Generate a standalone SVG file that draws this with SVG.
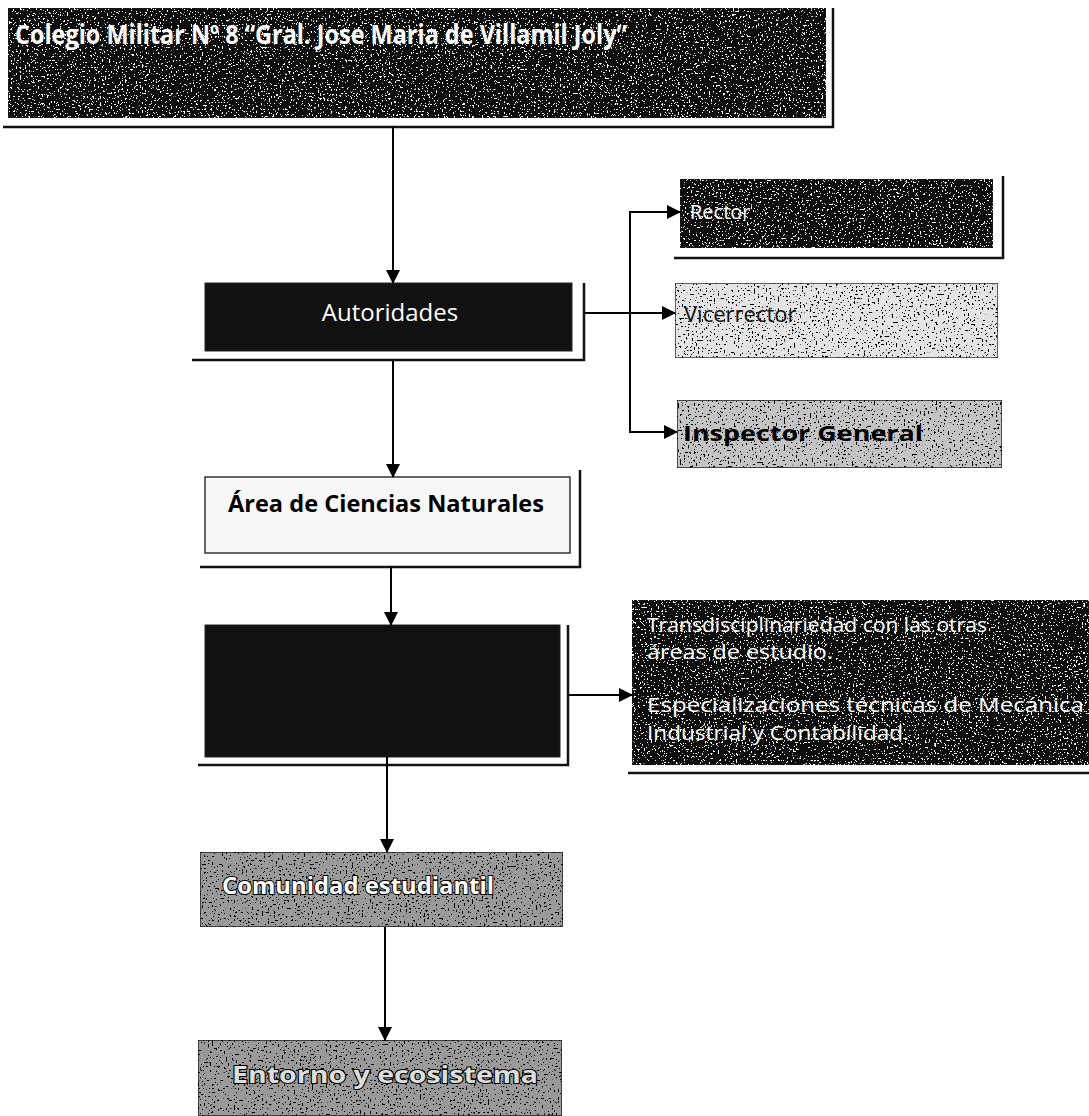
<svg xmlns="http://www.w3.org/2000/svg" width="1089" height="1116" viewBox="0 0 1089 1116">
<defs>
<filter id="noiseDark" x="0" y="0" width="100%" height="100%">
<feTurbulence type="fractalNoise" baseFrequency="0.55" numOctaves="2" seed="3" result="n"/>
<feColorMatrix in="n" type="matrix" values="0 0 0 0 1  0 0 0 0 1  0 0 0 0 1  0 0 0 -30 10.6" result="spk"/>
<feComposite in="spk" in2="SourceGraphic" operator="in" result="s2"/>
<feMerge><feMergeNode in="SourceGraphic"/><feMergeNode in="s2"/></feMerge>
</filter>
<filter id="noiseLight" x="0" y="0" width="100%" height="100%">
<feTurbulence type="fractalNoise" baseFrequency="0.5" numOctaves="2" seed="7" result="n"/>
<feColorMatrix in="n" type="matrix" values="0 0 0 0 0  0 0 0 0 0  0 0 0 0 0  0 0 0 -30 10.6" result="spk"/>
<feComposite in="spk" in2="SourceGraphic" operator="in" result="s2"/>
<feMerge><feMergeNode in="SourceGraphic"/><feMergeNode in="s2"/></feMerge>
</filter>
<marker id="arr" viewBox="0 0 14 14" refX="13" refY="7" markerWidth="14" markerHeight="14" markerUnits="userSpaceOnUse" orient="auto">
<path d="M0,0 L14,7 L0,14 z" fill="#000"/>
</marker>
</defs>
<style>
.frame{fill:none;stroke:#111;stroke-width:2.5}
.dark{fill:#111;stroke:#222;stroke-width:1}
.mid{fill:#9a9a9a;stroke:#222;stroke-width:1.5}
.light{fill:#e4e4e4;stroke:#333;stroke-width:1.5}
.pale{fill:#f7f7f7;stroke:#333;stroke-width:1.5}
.conn{fill:none;stroke:#000;stroke-width:2}
.t{font-family:"Open Sans","Liberation Sans",sans-serif}
.wb{fill:#fff;font-weight:bold}
</style>
<rect width="1089" height="1116" fill="#fff"/>

<g id="n-colegio">
<rect x="8" y="8" width="818" height="110" class="dark" filter="url(#noiseDark)"/>
<polyline points="3,127 833,127 833,8" class="frame"/>
<text x="15" y="44" class="t wb" font-size="26" textLength="612" lengthAdjust="spacingAndGlyphs">Colegio Militar Nº 8 “Gral. Jose Maria de Villamil Joly”</text>
</g>

<g id="n-autoridades">
<rect x="205" y="283" width="367" height="68" class="dark"/>
<polyline points="192,360 584,360 584,283" class="frame"/>
<text x="390" y="321" class="t" font-size="24" fill="#fff" text-anchor="middle">Autoridades</text>
</g>

<g id="n-rector">
<rect x="680" y="179" width="313" height="69" class="dark" filter="url(#noiseDark)"/>
<polyline points="674,258 1003,258 1003,176" class="frame"/>
<text x="690" y="219" class="t" font-size="20" fill="#fff">Rector</text>
</g>

<g id="n-vicerrector">
<rect x="675" y="283" width="323" height="75" class="light" filter="url(#noiseLight)"/>
<text x="684" y="322" class="t" font-size="22" fill="#111">Vicerrector</text>
</g>

<g id="n-inspector">
<rect x="677" y="400" width="325" height="68" class="mid" filter="url(#noiseLight)" style="fill:#c4c4c4"/>
<text x="683" y="441" class="t" font-size="22" font-weight="bold" fill="#000" textLength="240" lengthAdjust="spacingAndGlyphs">Inspector General</text>
</g>

<g id="n-area">
<rect x="205" y="477" width="365" height="76" class="pale"/>
<polyline points="200,567 580,567 580,470" class="frame"/>
<text x="228" y="512" class="t" font-size="23" font-weight="bold" fill="#000" textLength="316" lengthAdjust="spacingAndGlyphs">Área de Ciencias Naturales</text>
</g>

<g id="n-central">
<rect x="205" y="625" width="355" height="132" class="dark"/>
<polyline points="198,765 568,765 568,625" class="frame"/>
</g>

<g id="n-trans">
<rect x="632" y="600" width="457" height="165" class="dark" filter="url(#noiseDark)"/>
<line x1="628" y1="773" x2="1089" y2="773" class="frame"/>
<text class="t" font-size="20" fill="#fff">
<tspan x="647" y="632" textLength="340" lengthAdjust="spacingAndGlyphs">Transdisciplinariedad con las otras</tspan>
<tspan x="647" y="659" textLength="186" lengthAdjust="spacingAndGlyphs">áreas de estudio.</tspan>
<tspan x="647" y="712" textLength="437" lengthAdjust="spacingAndGlyphs">Especializaciones técnicas de Mecánica</tspan>
<tspan x="647" y="740" textLength="262" lengthAdjust="spacingAndGlyphs">Industrial y Contabilidad.</tspan>
</text>
</g>

<g id="n-comunidad">
<rect x="200" y="852" width="363" height="75" class="mid" filter="url(#noiseLight)"/>
<text x="222" y="894" class="t wb" font-size="24" stroke="#000" stroke-width="2" paint-order="stroke" textLength="272" lengthAdjust="spacingAndGlyphs">Comunidad estudiantil</text>
</g>

<g id="n-entorno">
<rect x="198" y="1040" width="364" height="76" class="mid" filter="url(#noiseLight)"/>
<text x="232" y="1083" class="t" font-size="24" font-weight="bold" fill="#ddd" stroke="#000" stroke-width="2" paint-order="stroke" textLength="306" lengthAdjust="spacingAndGlyphs">Entorno y ecosistema</text>
</g>

<g id="connectors">
<line x1="393" y1="127" x2="393" y2="283" class="conn" marker-end="url(#arr)"/>
<line x1="584" y1="313" x2="675" y2="313" class="conn" marker-end="url(#arr)"/>
<line x1="630" y1="211" x2="630" y2="433" class="conn"/>
<line x1="629" y1="212" x2="680" y2="212" class="conn" marker-end="url(#arr)"/>
<line x1="629" y1="432" x2="677" y2="432" class="conn" marker-end="url(#arr)"/>
<line x1="393" y1="360" x2="393" y2="477" class="conn" marker-end="url(#arr)"/>
<line x1="391" y1="567" x2="391" y2="625" class="conn" marker-end="url(#arr)"/>
<line x1="568" y1="695" x2="632" y2="695" class="conn" marker-end="url(#arr)"/>
<line x1="387" y1="757" x2="387" y2="852" class="conn" marker-end="url(#arr)"/>
<line x1="385" y1="927" x2="385" y2="1040" class="conn" marker-end="url(#arr)"/>
</g>
</svg>
